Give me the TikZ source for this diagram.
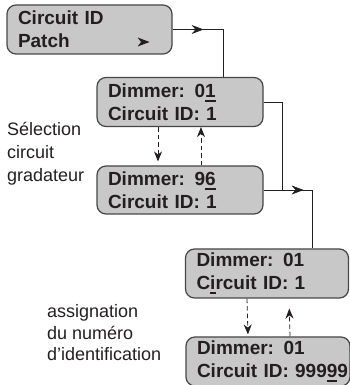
\documentclass[tikz,border=0pt]{standalone}
\usepackage{fontspec}
\setmainfont{Liberation Sans}
\usetikzlibrary{positioning, arrows.meta, decorations.markings}

\definecolor{boxfill}{RGB}{200,200,201}
\definecolor{boxline}{RGB}{70,70,70}
\definecolor{ink}{RGB}{35,31,32}
\newcommand{\curs}[1]{\setbox0\hbox{#1}\leavevmode\rlap{\rule[-4.5pt]{\wd0}{2pt}}\box0\relax}
\newcommand{\lcdlines}[2]{\hspace*{11pt}#1\\\hspace*{11pt}#2}

\begin{document}
\begin{tikzpicture}[
		x=1pt, y=1pt,
		lcd/.style={rectangle, draw=boxline, line width=1.2pt, rounded corners=9pt, fill=boxfill, text=ink, align=left, text width=166pt, inner xsep=0pt, minimum height=49pt, font=\fontsize{19}{23}\selectfont\bfseries},
		side/.style={align=left, inner sep=0pt, text=ink, font=\fontsize{18}{23}\selectfont},
		link/.style={draw=ink, line width=0.8pt},
		midarrow/.style={postaction={decorate}, decoration={markings, mark=at position #1 with {\arrow{Stealth[length=12pt, width=9pt]}}}},
		dasharrow/.style={draw=ink, line width=0.8pt, dash pattern=on 4.5pt off 3pt, -{Stealth[length=10pt, width=8pt]}}
		]
		\useasboundingbox (0,0) rectangle (349,385);

		\node[lcd, text width=165pt] (circpatch) at (89.5,355.5) {\lcdlines{Circuit ID}{Patch}};
		\fill[ink] ([xshift=-23pt, yshift=-12.5pt]circpatch.east) -- ++(-12,4.5) -- ++(3.5,-4.5) -- ++(-3.5,-4.5) -- cycle;

		\node[lcd] (dimone) at (180,283) {\lcdlines{Dimmer: 0\curs{1}}{Circuit ID: 1}};
		\node[lcd, minimum height=48pt] (dimsix) at (180,195) {\lcdlines{Dimmer: 9\curs{6}}{Circuit ID: 1}};
		\node[lcd, text width=163pt] (cidone) at (267,111.5) {\lcdlines{Dimmer: 01}{C\curs{i}rcuit ID: 1}};
		\node[lcd, text width=164pt] (cidnine) at (268,23.5) {\lcdlines{Dimmer: 01}{Circuit ID: 999\curs{9}9}};

		\node[side, anchor=west] (selgrad) at (7,231) {Sélection\\circuit\\gradateur};
		\node[side, anchor=west, font=\fontsize{18}{21.5}\selectfont] (assignid) at (47,52) {assignation\\du numéro\\d’identification};

		\coordinate (topx) at (223,0);
		\coordinate (joinx) at (282,0);
		\coordinate (bendx) at (312,0);

		\draw[link, midarrow=31pt] (circpatch.east) -- (circpatch.east -| topx) -- (dimone.north -| topx);
		\draw[link] (dimone.east) -- (dimone.east -| joinx) -- (dimsix.east -| joinx);
		\draw[link, midarrow=40pt] (dimsix.east) -- (dimsix.east -| bendx) -- (cidone.north -| bendx);

		\draw[dasharrow, shorten >=4pt] ([xshift=-22pt]dimone.south) -- ([xshift=-22pt]dimsix.north);
		\draw[dasharrow] ([xshift=21pt]dimsix.north) -- ([xshift=21pt]dimone.south);
		\draw[dasharrow, shorten >=2pt] ([xshift=-20pt]cidone.south) -- ([xshift=-20pt]cidnine.north);
		\draw[dasharrow, shorten >=10pt] ([xshift=22pt]cidnine.north) -- ([xshift=22pt]cidone.south);
	\end{tikzpicture}
\end{document}
